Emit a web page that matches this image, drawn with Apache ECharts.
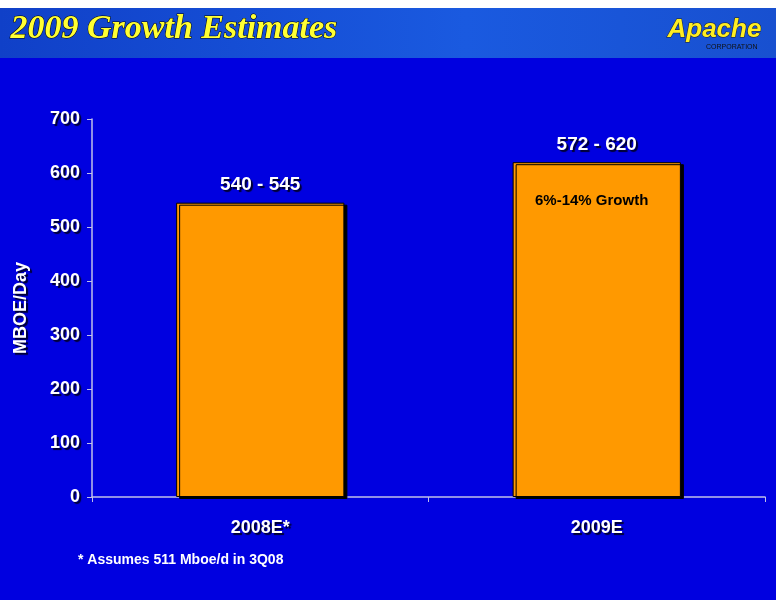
<!DOCTYPE html>
<html><head><meta charset="utf-8">
<script src="https://cdn.jsdelivr.net/npm/echarts@6/dist/echarts.min.js"></script>
<style>html,body{margin:0;padding:0;background:#fff}#c{width:776px;height:600px}</style>
</head><body><div id="c"></div>
<script>
var categories = ['2008E*', '2009E'];
var values = [545, 620];
var barLabels = ['540 - 545', '572 - 620'];
var yTicks = [0, 100, 200, 300, 400, 500, 600, 700];
var chart = echarts.init(document.getElementById('c'));
var shadowText = {color:'#fff', fontFamily:'Arial, Liberation Sans', fontWeight:'bold', textShadowColor:'#000030', textShadowOffsetX:2, textShadowOffsetY:2, textShadowBlur:1};
chart.setOption({
  backgroundColor: '#0000e0',
  graphic: [
    {type:'rect', shape:{x:0,y:0,width:776,height:8}, style:{fill:'#fff'}},
    {type:'rect', shape:{x:0,y:8,width:776,height:50}, style:{fill:new echarts.graphic.LinearGradient(0,0,1,0,[{offset:0,color:'#1040c8'},{offset:0.6,color:'#1a5ae0'},{offset:1,color:'#1850d0'}])}},
    {type:'text', left:10, top:12, style:{text:'2009 Growth Estimates', fill:'#ffff33', font:'italic bold 34px "Liberation Serif", serif', stroke:'#000', lineWidth:1, shadowColor:'#000', shadowOffsetX:2, shadowOffsetY:2, shadowBlur:0}},
    {type:'text', left:667, top:16, style:{text:'Apache', fill:'#ffee22', font:'italic bold 26px "Liberation Sans", sans-serif', stroke:'#222', lineWidth:1}},
    {type:'text', left:706, top:44, style:{text:'CORPORATION', fill:'#111', font:'7px "Liberation Sans", sans-serif'}},
    {type:'text', left:78, top:553, style:{text:'* Assumes 511 Mboe/d in 3Q08', fill:'#fff', font:'bold 14px "Liberation Sans", Arial'}},
    {type:'text', left:535, top:193, z:100, style:{text:'6%-14% Growth', fill:'#000', font:'bold 15px "Liberation Sans", Arial'}}
  ],
  grid: {left:92, right:11, top:119, bottom:103},
  xAxis: {type:'category', data:categories,
    axisLine:{lineStyle:{color:'#c0c0e8', width:1.5}}, axisTick:{show:true, lineStyle:{color:'#c0c0e8'}},
    axisLabel:Object.assign({fontSize:18, margin:22}, shadowText)},
  yAxis: {type:'value', min:0, max:700, interval:100, splitLine:{show:false},
    name:'MBOE/Day', nameLocation:'middle', nameGap:62, nameTextStyle:Object.assign({fontSize:18}, shadowText),
    axisLine:{show:true, lineStyle:{color:'#c0c0e8', width:1.5}}, axisTick:{show:true, lineStyle:{color:'#c0c0e8'}},
    axisLabel:Object.assign({fontSize:18, margin:12, formatter:function(v){return yTicks.indexOf(v)>=0?String(v):'';}}, shadowText)},
  series: [{type:'bar', data:values, barWidth:'50%',
    itemStyle:{color:'#ff9900', borderColor:'#000', borderWidth:1, shadowColor:'#000', shadowOffsetX:3, shadowOffsetY:2},
    label:Object.assign({show:true, position:'top', distance:8, fontSize:19, formatter:function(p){return barLabels[p.dataIndex];}}, shadowText)}]
});
</script></body></html>
